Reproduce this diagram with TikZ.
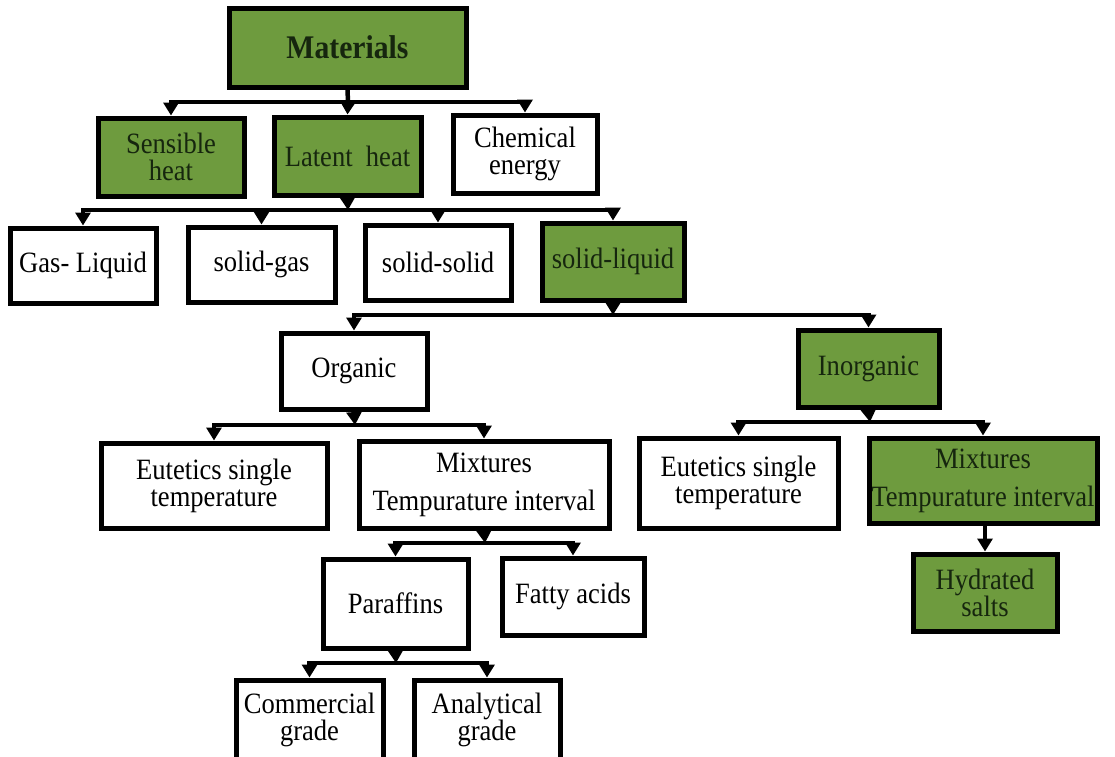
\documentclass[tikz,border=0pt]{standalone}
\usepackage{fontspec}
\setmainfont{Liberation Serif}[FakeStretch=0.9]
\usetikzlibrary{arrows.meta}
\definecolor{boxgreen}{RGB}{110,155,62}
\definecolor{greentext}{RGB}{22,38,14}
\tikzset{
  box/.style={draw=black, line width=5pt, rectangle, inner sep=2pt, align=center,
    font=\fontsize{29.5}{27}\selectfont, fill=white, text=black},
  gbox/.style={box, fill=boxgreen, text=greentext},
  conn/.style={draw=black, line width=4.5pt},
  arr/.style={conn, -{Triangle[width=15pt,length=13pt]}},
}
\begin{document}
\begin{tikzpicture}[x=1pt,y=-1pt]
\useasboundingbox (0,0) rectangle (1115,756);
% nodes
\node[gbox, minimum width=237, minimum height=79, font=\fontsize{33}{34}\selectfont\bfseries] (mat) at (347.5,47.5) {Materials};
\node[gbox, minimum width=146, minimum height=78] (sens) at (171,157) {Sensible\\heat};
\node[gbox, minimum width=147, minimum height=78] (lat) at (347.5,156) {Latent\ \ heat};
\node[box, minimum width=144, minimum height=78] (chem) at (525,154) {Chemical\\energy};
\node[box, minimum width=146, minimum height=75] (gas) at (83,265.5) {Gas- Liquid};
\node[box, minimum width=147, minimum height=75] (sgas) at (261.5,264.5) {solid-gas};
\node[box, minimum width=146, minimum height=75] (ssol) at (438,262.5) {solid-solid};
\node[gbox, minimum width=142, minimum height=77] (sliq) at (613,261.5) {solid-liquid};
\node[box, minimum width=146, minimum height=76] (org) at (354,371) {Organic};
\node[gbox, minimum width=141, minimum height=77] (inorg) at (868.5,368.5) {Inorganic};
\node[box, minimum width=226, minimum height=85] (eut1) at (214,485.5) {Eutetics single\\temperature};
\node[box, minimum width=250, minimum height=87, font=\fontsize{29.5}{38}\selectfont] (mix1) at (484,484.5) {Mixtures\\Tempurature interval};
\node[box, minimum width=199, minimum height=90] (eut2) at (738.5,483) {Eutetics single\\temperature};
\node[gbox, minimum width=228, minimum height=85, font=\fontsize{29.5}{38}\selectfont] (mix2) at (983,480.5) {Mixtures\\Tempurature interval};
\node[gbox, minimum width=144, minimum height=77] (hyd) at (985,592.5) {Hydrated\\salts};
\node[box, minimum width=145, minimum height=89] (par) at (395.5,603.5) {Paraffins};
\node[box, minimum width=142, minimum height=77] (fat) at (573,596.5) {Fatty acids};
\node[box, minimum width=147, minimum height=80] (com) at (309.5,720) {Commercial\\grade};
\node[box, minimum width=146, minimum height=80] (ana) at (487,720) {Analytical\\grade};
% bus coordinates
\coordinate (b0) at (348,102);
\coordinate (b1) at (348,210);
\coordinate (b2) at (613,315);
\coordinate (b3) at (355,425);
\coordinate (b4) at (870,422);
\coordinate (b5) at (485,543);
\coordinate (b6) at (396,663);
% Materials
\draw[conn] (mat.south) -- (b0);
\draw[arr] (b0) -| (sens.north);
\draw[arr] (b0) -- (lat.north);
\draw[arr] (b0) -| (chem.north);
% Latent heat
\draw[arr] (lat.south) -- (b1);
\draw[arr] (b1) -| (gas.north);
\draw[arr] (b1) -| (sgas.north);
\draw[arr] (b1) -| (ssol.north);
\draw[arr] (b1) -| (sliq.north);
% solid-liquid
\draw[arr] (sliq.south) -- (b2);
\draw[arr] (b2) -| (org.north);
\draw[arr] (b2) -| (inorg.north);
% Organic
\draw[arr] (org.south) -- (b3);
\draw[arr] (b3) -| (eut1.north);
\draw[arr] (b3) -| (mix1.north);
% Inorganic
\draw[arr] (inorg.south) -- (b4);
\draw[arr] (b4) -| (eut2.north);
\draw[arr] (b4) -| (mix2.north);
% Mixtures inorganic -> hydrated
\draw[arr] (hyd.north |- mix2.south) -- (hyd.north);
% Mixtures organic
\draw[arr] (mix1.south) -- (b5);
\draw[arr] (b5) -| (par.north);
\draw[arr] (b5) -| (fat.north);
% Paraffins
\draw[arr] (par.south) -- (b6);
\draw[arr] (b6) -| (com.north);
\draw[arr] (b6) -| (ana.north);
\end{tikzpicture}
\end{document}
